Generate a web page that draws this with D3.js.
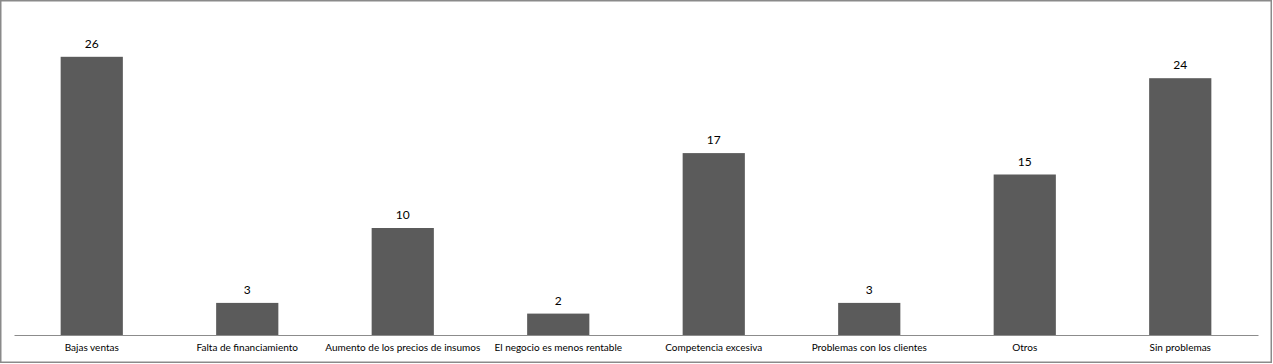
<!DOCTYPE html>
<html>
<head>
<meta charset="utf-8">
<script src="https://cdn.jsdelivr.net/npm/d3@7"></script>
<style>
  body { margin: 0; background: #fff; }
  svg { display: block; }
</style>
</head>
<body>
<div id="chart"></div>
<script>
// data
const categories = [
    "Bajas ventas",
    "Falta de financiamiento",
    "Aumento de los precios de insumos",
    "El negocio es menos rentable",
    "Competencia excesiva",
    "Problemas con los clientes",
    "Otros",
    "Sin problemas"
];
const values = [26, 3, 10, 2, 17, 3, 15, 24];

// size
const width = 1273;
const height = 364;
const margin = { top: 14, bottom: 29, left: 14, right: 15 };

const svg = d3.select("#chart")
    .append("svg")
    .attr("width", width)
    .attr("height", height);

// outer border
svg.append("rect")
    .attr("x", 0.75)
    .attr("y", 0.75)
    .attr("width", width - 2.5)
    .attr("height", height - 2.5)
    .attr("fill", "#fff")
    .attr("stroke", "#8a8a8a")
    .attr("stroke-width", 1.5);

const x = d3.scaleBand()
    .domain(categories)
    .range([margin.left, width - margin.right])
    .paddingInner(0.6)
    .paddingOuter(0.3);

const y = d3.scaleLinear()
    .domain([0, 30])
    .range([height - margin.bottom, margin.top]);

// bars
svg.selectAll(".bar")
    .data(values)
    .enter()
    .append("rect")
    .attr("class", "bar")
    .attr("x", (d, i) => x(categories[i]))
    .attr("y", d => y(d))
    .attr("width", x.bandwidth())
    .attr("height", d => y(0) - y(d))
    .attr("fill", "#5b5b5b");

// baseline / x-axis
const xAxis = svg.append("g")
    .attr("transform", "translate(0," + y(0) + ")")
    .call(d3.axisBottom(x).tickSize(0).tickPadding(9));
xAxis.select(".domain").attr("stroke", "#8c8c8c").attr("stroke-width", 1);
xAxis.selectAll("text")
    .attr("font-family", "Lato, 'Noto Sans', sans-serif")
    .attr("font-size", "10px")
    .attr("fill", "#000");

// value labels
svg.selectAll(".value")
    .data(values)
    .enter()
    .append("text")
    .attr("class", "value")
    .attr("x", (d, i) => x(categories[i]) + x.bandwidth() / 2)
    .attr("y", d => y(d) - 9)
    .attr("text-anchor", "middle")
    .attr("font-family", "Lato, 'Noto Sans', sans-serif")
    .attr("font-size", "12px")
    .attr("fill", "#000")
    .text(d => d);
</script>
</body>
</html>
